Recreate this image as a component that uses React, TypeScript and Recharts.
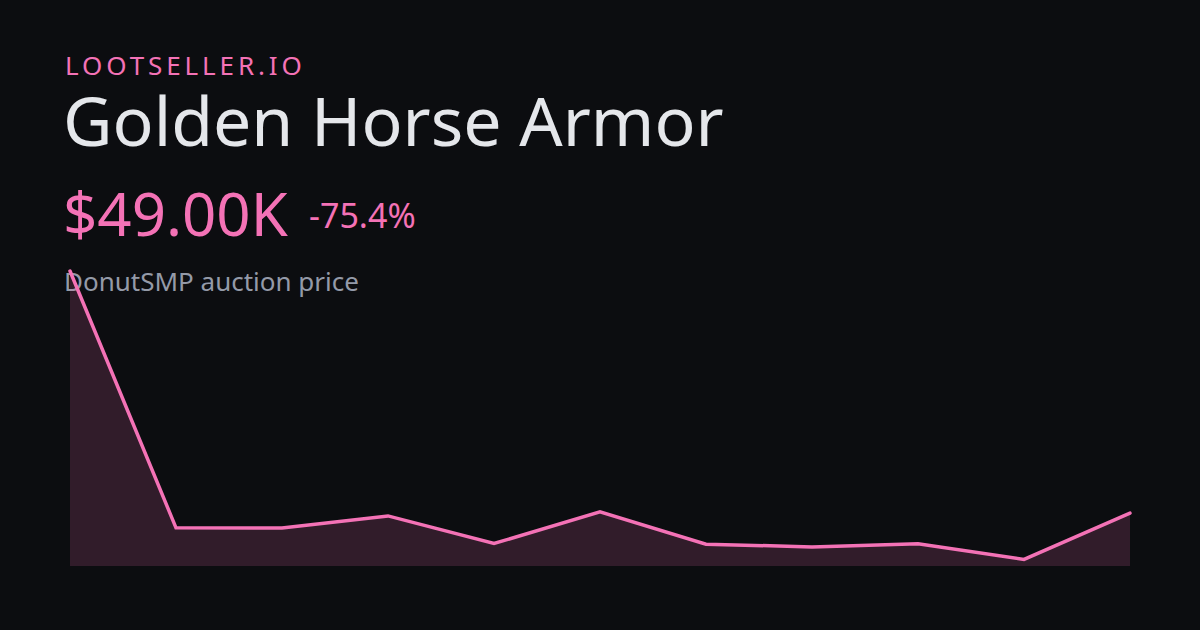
import React from 'react';
import { AreaChart, Area, XAxis, YAxis } from 'recharts';

// price points (thousands of $), oldest to newest
const days = ['d1', 'd2', 'd3', 'd4', 'd5', 'd6', 'd7', 'd8', 'd9', 'd10', 'd11'];
const prices = [199.2, 39.9, 39.8, 47.3, 30.2, 49.8, 29.8, 28.1, 30.0, 20.3, 49.0];

const chartData = days.map((d, i) => ({ day: d, price: prices[i] }));

const PINK = '#f472b6';
const BG = '#0c0d10';
const font = '"Noto Sans", sans-serif';

const App: React.FC = () => {
  const minV = Math.min(...prices);
  const maxV = Math.max(...prices);
  const last = prices[prices.length - 1];
  const change = ((last - prices[0]) / prices[0]) * 100;

  return (
    <div style={{ position: 'fixed', left: 0, top: 0, width: 1200, height: 630, background: BG, overflow: 'hidden', fontFamily: font }}>
      <div style={{ position: 'absolute', left: 65, top: 51.6, fontSize: 26, lineHeight: 1, color: PINK, letterSpacing: '0.15em' }}>
        LOOTSELLER.IO
      </div>
      <div style={{ position: 'absolute', left: 63, top: 85.6, fontSize: 68, lineHeight: 1, color: '#e5e7eb', whiteSpace: 'nowrap' }}>
        Golden Horse Armor
      </div>
      <div style={{ position: 'absolute', left: 63, top: 183.4, fontSize: 60, lineHeight: 1, color: PINK, whiteSpace: 'nowrap' }}>
        ${last.toFixed(2)}K
      </div>
      <div style={{ position: 'absolute', left: 309, top: 197.5, fontSize: 34, lineHeight: 1, color: PINK, whiteSpace: 'nowrap' }}>
        {change.toFixed(1)}%
      </div>
      <div style={{ position: 'absolute', left: 64, top: 267.6, fontSize: 26, lineHeight: 1, color: '#949aa8', whiteSpace: 'nowrap' }}>
        DonutSMP auction price
      </div>

      {/* sparkline drawn over the subtitle */}
      <div style={{ position: 'absolute', left: 65, top: 266 }}>
        <AreaChart width={1070} height={305} data={chartData} margin={{ top: 5, right: 5, left: 5, bottom: 5 }}>
          <XAxis dataKey="day" hide />
          <YAxis hide domain={[minV * 0.8, maxV]} />
          <Area
            type="linear"
            dataKey="price"
            stroke={PINK}
            strokeWidth={3.5}
            fill={PINK}
            fillOpacity={0.16}
            strokeLinecap="round"
            isAnimationActive={false}
          />
        </AreaChart>
      </div>
    </div>
  );
};

export default App;
